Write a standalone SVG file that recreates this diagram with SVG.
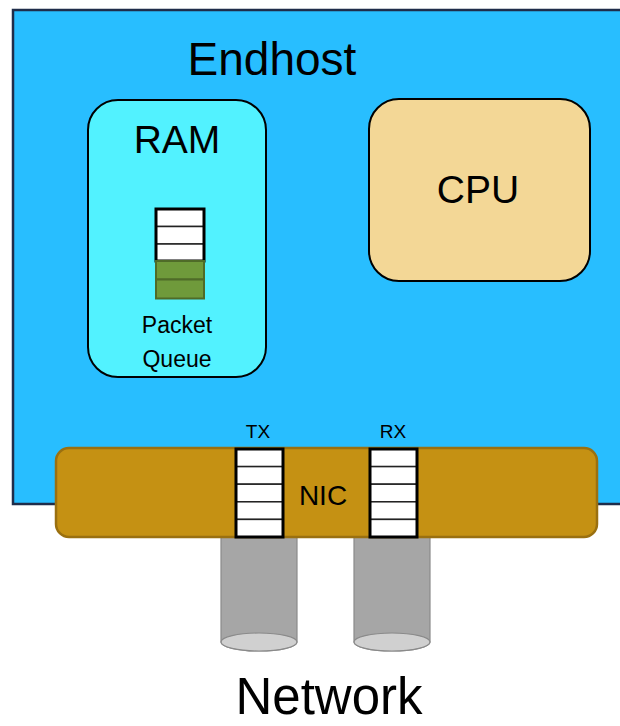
<svg xmlns="http://www.w3.org/2000/svg" width="620" height="726" viewBox="0 0 620 726">
<style>
text{font-family:"Liberation Sans",Arial,sans-serif;fill:#000;text-anchor:middle}
.cellw{fill:#fff;stroke:#222;stroke-width:1.5}
.cellg{fill:#6F9A3B;stroke:#4F6B28;stroke-width:2}
.qbox{fill:none;stroke:#000;stroke-width:3}
.cyl{fill:#A6A6A6;stroke:#8A8A8A;stroke-width:1.2}
.cylend{fill:#D0D0D0;stroke:#8A8A8A;stroke-width:1.2}
</style>
<rect width="620" height="726" fill="#fff"/>
<g id="endhost">
<rect x="13" y="10" width="630" height="494" fill="#28BEFF" stroke="#1F2D4A" stroke-width="2.5"/>
<text x="272" y="75" font-size="46">Endhost</text>
</g>
<g id="ram">
<rect x="88" y="100" width="178" height="277" rx="30" fill="#52F2FF" stroke="#000" stroke-width="2"/>
<text x="177" y="153" font-size="39">RAM</text>
<g id="packet-queue">
<rect class="cellw" x="156" y="209" width="48" height="17.5"/>
<rect class="cellw" x="156" y="226.5" width="48" height="17.5"/>
<rect class="cellw" x="156" y="244" width="48" height="17"/>
<rect class="qbox" x="156" y="209" width="48" height="52"/>
<rect class="cellg" x="156" y="261" width="48" height="18.5"/>
<rect class="cellg" x="156" y="279.5" width="48" height="19"/>
</g>
<text x="177" y="333" font-size="23">Packet</text>
<text x="177" y="367" font-size="23">Queue</text>
</g>
<g id="cpu">
<rect x="369" y="99" width="221" height="182" rx="30" fill="#F3D796" stroke="#000" stroke-width="2"/>
<text x="478" y="203" font-size="39">CPU</text>
</g>
<g id="network-links">
<path class="cyl" d="M221 537 V642 A38 9 0 0 0 297 642 V537 Z"/>
<ellipse class="cylend" cx="259" cy="642" rx="38" ry="9"/>
<path class="cyl" d="M354 537 V642 A38 9 0 0 0 430 642 V537 Z"/>
<ellipse class="cylend" cx="392" cy="642" rx="38" ry="9"/>
</g>
<g id="nic">
<rect x="56" y="448" width="541" height="89" rx="13" fill="#C59113" stroke="#9A7010" stroke-width="2.5"/>
<text x="323" y="505" font-size="28">NIC</text>
</g>
<g id="tx-queue">
<text x="258" y="438" font-size="19">TX</text>
<rect class="cellw" x="236" y="449" width="47" height="17.6"/>
<rect class="cellw" x="236" y="466.6" width="47" height="17.6"/>
<rect class="cellw" x="236" y="484.2" width="47" height="17.6"/>
<rect class="cellw" x="236" y="501.8" width="47" height="17.6"/>
<rect class="cellw" x="236" y="519.4" width="47" height="17.6"/>
<rect class="qbox" x="236" y="449" width="47" height="88"/>
</g>
<g id="rx-queue">
<text x="393" y="438" font-size="19">RX</text>
<rect class="cellw" x="370" y="449" width="47" height="17.6"/>
<rect class="cellw" x="370" y="466.6" width="47" height="17.6"/>
<rect class="cellw" x="370" y="484.2" width="47" height="17.6"/>
<rect class="cellw" x="370" y="501.8" width="47" height="17.6"/>
<rect class="cellw" x="370" y="519.4" width="47" height="17.6"/>
<rect class="qbox" x="370" y="449" width="47" height="88"/>
</g>
<g id="network">
<text x="329" y="714" font-size="51">Network</text>
</g>
</svg>
